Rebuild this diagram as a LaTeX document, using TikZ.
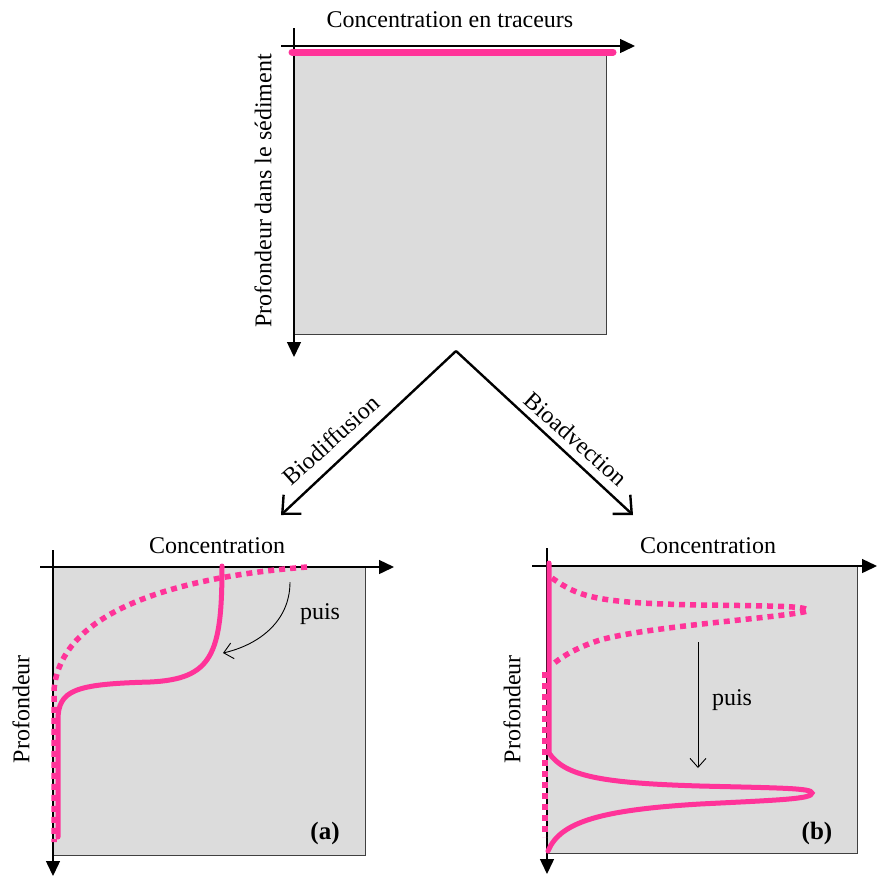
\documentclass[tikz,border=0pt]{standalone}
\usepackage{fontspec}
\setmainfont{Liberation Serif}
\usetikzlibrary{arrows.meta}
\definecolor{tracer}{RGB}{255,51,153}
\definecolor{boxgray}{RGB}{220,220,220}
\begin{document}
\begin{tikzpicture}[x=1pt,y=-1pt,
  lbl/.style={font=\fontsize{24}{26}\selectfont, inner sep=0pt},
  panel/.style={fill=boxgray, draw=black!75, line width=1pt},
  axis/.style={line width=1.4pt, -{Triangle[length=15pt,width=14pt]}},
  solidcurve/.style={tracer, line width=5pt, line cap=round},
  dotcurve/.style={tracer, line width=5.5pt, dash pattern=on 6pt off 5pt},
  branch/.style={line width=2.4pt, -{Straight Barb[length=14pt,width=26pt,line width=2.4pt]}},
  thinarrow/.style={line width=0.9pt, -{Straight Barb[length=9pt,width=16pt,line width=0.9pt]}}]
\useasboundingbox (0,0) rectangle (877,876);

% ---------- top panel ----------
\fill[boxgray] (294,50) rectangle (606,334);
\draw[black!75, line width=1pt] (606,50) -- (606,334) -- (294,334);
\coordinate (tx0) at (281,46); \coordinate (tx1) at (635,46);
\coordinate (ty0) at (294,28); \coordinate (ty1) at (294,357);
\draw[axis] (tx0) -- (tx1);
\draw[axis] (ty0) -- (ty1);
\coordinate (tp0) at (292,52); \coordinate (tp1) at (613,52);
\draw[solidcurve, line width=7pt] (tp0) -- (tp1);
\node[lbl] (ttitle) at (450,20) {Concentration en traceurs};
\node[lbl, rotate=90] (tylab) at (263,191) {Profondeur dans le sédiment};

% ---------- branch arrows ----------
\coordinate (apex) at (456,351);
\coordinate (leftend) at (281,515);
\coordinate (rightend) at (633,515);
\draw[branch] (apex) -- (leftend);
\draw[branch] (apex) -- (rightend);
\node[lbl, rotate=42] (bdiff) at (331,440) {Biodiffusion};
\node[lbl, rotate=-42] (badv) at (576,439) {Bioadvection};

% ---------- panel (a) ----------
\draw[panel] (53,567) rectangle (365,855);
\coordinate (ax0) at (40,567); \coordinate (ax1) at (394,567);
\coordinate (ay0) at (53,550); \coordinate (ay1) at (53,876);
\draw[axis] (ax0) -- (ax1);
\draw[axis] (ay0) -- (ay1);
\node[lbl] (aconc) at (217,546) {Concentration};
\node[lbl, rotate=90] (aprof) at (21,709) {Profondeur};
\coordinate (ad0) at (307,567);
\coordinate (ad1) at (54,690);
\coordinate (ad2) at (54,842);
\draw[dotcurve] (ad0) .. controls (165,578) and (60,615) .. (ad1) -- (ad2);
\coordinate (as0) at (222,566);
\coordinate (as1) at (150,682);
\coordinate (as2) at (58,720);
\coordinate (as3) at (58,837);
\draw[solidcurve] (as0) .. controls (222,655) and (212,679) .. (as1)
  .. controls (75,684) and (58,690) .. (as2) -- (as3);
\coordinate (ap0) at (290,582);
\coordinate (ap1) at (223,653);
\draw[thinarrow] (ap0) .. controls (290,622) and (258,645) .. (ap1);
\node[lbl] (apuis) at (320,614) {puis};
\node[lbl, font=\fontsize{25}{27}\selectfont\bfseries] (alab) at (325,833) {(a)};

% ---------- panel (b) ----------
\draw[panel] (547,566) rectangle (857,853);
\coordinate (bx0) at (532,566); \coordinate (bx1) at (877,566);
\coordinate (by0) at (547,548); \coordinate (by1) at (547,874);
\draw[axis] (bx0) -- (bx1);
\draw[axis] (by0) -- (by1);
\node[lbl] (bconc) at (708,546) {Concentration};
\node[lbl, rotate=90] (bprof) at (512,709) {Profondeur};
\coordinate (bd0) at (552,578);
\coordinate (bd1) at (700,605);
\coordinate (bd2) at (808,611);
\coordinate (bd3) at (600,640);
\coordinate (bd4) at (552,665);
\draw[dotcurve] (bd0) .. controls (580,598) and (600,603) .. (bd1)
  .. controls (780,606) and (808,606) .. (bd2)
  .. controls (780,618) and (650,626) .. (bd3)
  .. controls (575,648) and (560,658) .. (bd4);
\coordinate (bv0) at (545,672); \coordinate (bv1) at (545,837);
\draw[dotcurve] (bv0) -- (bv1);
\coordinate (bs0) at (549,563);
\coordinate (bs1) at (549,753);
\coordinate (bs2) at (700,786);
\coordinate (bs3) at (812,793);
\coordinate (bs4) at (700,804);
\coordinate (bs5) at (548,851);
\draw[solidcurve] (bs0) -- (bs1) .. controls (565,776) and (600,783) .. (bs2)
  .. controls (780,788) and (812,788) .. (bs3)
  .. controls (812,799) and (780,800) .. (bs4)
  .. controls (600,810) and (560,822) .. (bs5);
\coordinate (bp0) at (698,642);
\coordinate (bp1) at (698,768);
\draw[thinarrow] (bp0) -- (bp1);
\node[lbl] (bpuis) at (732,700) {puis};
\node[lbl, font=\fontsize{25}{27}\selectfont\bfseries] (blab) at (817,833) {(b)};
\end{tikzpicture}
\end{document}
